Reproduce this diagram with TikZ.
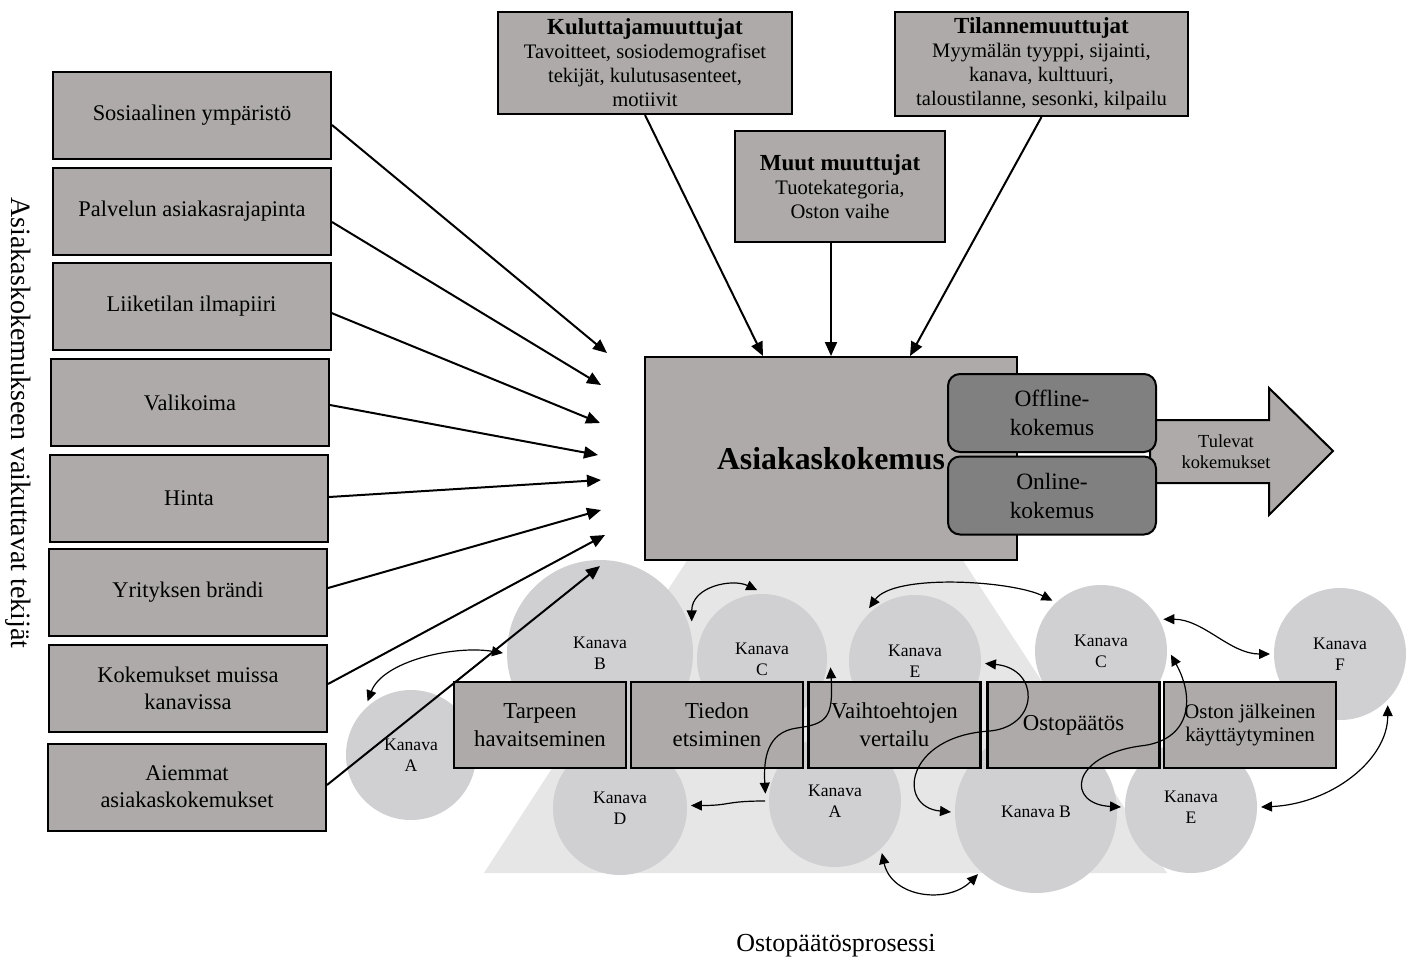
\documentclass[tikz,border=0pt]{standalone}
\usepackage{fontspec}
\setmainfont{Liberation Serif}
\usetikzlibrary{arrows.meta}
\definecolor{boxgray}{RGB}{173,170,169}
\definecolor{expgray}{RGB}{128,128,128}
\definecolor{circgray}{RGB}{208,207,209}
\definecolor{trigray}{RGB}{230,230,230}
\begin{document}
\begin{tikzpicture}[x=0.5pt,y=-0.5pt,
  lbox/.style={draw, line width=1pt, fill=boxgray, minimum width=139pt, minimum height=43.5pt, inner sep=0pt, align=center, font=\fontsize{11.2}{13.5}\selectfont},
  topbox/.style={draw, line width=1pt, fill=boxgray, inner sep=0pt, align=center, font=\fontsize{10.3}{12}\selectfont},
  pbox/.style={draw, line width=1.2pt, fill=boxgray, minimum width=86pt, minimum height=43pt, inner sep=0pt, align=center, font=\fontsize{11.4}{14}\selectfont},
  chan/.style={circle, fill=circgray, inner sep=0pt, outer sep=2pt, align=center, font=\fontsize{8.8}{10.5}\selectfont},
  expbox/.style={draw, line width=1pt, fill=expgray, rounded corners=6pt, minimum width=104pt, minimum height=39pt, inner sep=0pt, align=center, font=\fontsize{11.7}{14.5}\selectfont},
  bigarr/.style={line width=1pt, -{Triangle[length=7pt,width=6pt]}},
  curv/.style={line width=0.6pt, {Triangle[length=5.5pt,width=5pt]}-{Triangle[length=5.5pt,width=5pt]}},
  curvone/.style={line width=0.6pt, -{Triangle[length=5.5pt,width=5pt]}}
]
\useasboundingbox (0,0) rectangle (1415,960);
\fill[white] (0,0) rectangle (1415,960);

% background trapezoid (triangle whose top is hidden by the main box)
\fill[trigray] (690,556) -- (960,556) -- (1167,873) -- (484,873) -- cycle;

% main box
\node[draw, line width=1pt, fill=boxgray, minimum width=186pt, minimum height=101.5pt, inner sep=0pt,
      font=\fontsize{15.9}{18}\selectfont\bfseries] (main) at (831,458.5) {\raisebox{-1.5pt}{Asiakaskokemus}};

% future arrow
\draw[line width=1pt, fill=boxgray] (1150,420) -- (1269,420) -- (1269,388) -- (1333,451) -- (1269,515) -- (1269,483) -- (1150,483) -- cycle;
\node[align=center, inner sep=0pt, font=\fontsize{9.2}{10.5}\selectfont] (tul) at (1226,452) {Tulevat\\kokemukset};

% offline / online
\node[expbox] (off) at (1052,413) {Offline-\\kokemus};
\node[expbox] (on) at (1052,495.5) {Online-\\kokemus};

% top boxes
\node[topbox, minimum width=147pt, minimum height=51pt] (ku) at (645,63)
  {{\fontsize{11.5}{13}\selectfont\bfseries Kuluttajamuuttujat}\\Tavoitteet, sosiodemografiset\\tekijät, kulutusasenteet,\\motiivit};
\node[topbox, minimum width=146.5pt, minimum height=52pt] (ti) at (1041.5,64)
  {{\fontsize{11.5}{13}\selectfont\bfseries Tilannemuuttujat}\\Myymälän tyyppi, sijainti,\\kanava, kulttuuri,\\taloustilanne, sesonki, kilpailu};
\node[topbox, minimum width=105pt, minimum height=55.5pt] (mm) at (840,186.5)
  {{\fontsize{11.5}{13}\selectfont\bfseries Muut muuttujat}\\Tuotekategoria,\\Oston vaihe};

\draw[bigarr] (ku.south) -- ([xshift=-34pt]main.north);
\draw[bigarr] (main.north |- mm.south) -- (main.north);
\draw[bigarr] (ti.south) -- ([xshift=39.5pt]main.north);

% channel circles
\node[chan, minimum size=65pt] (cA1) at (411,755) {Kanava\\A};
\node[chan, minimum size=93pt] (cB1) at (600,653) {Kanava\\B};
\node[chan, minimum size=65pt] (cC1) at (762,659) {Kanava\\C};
\node[chan, minimum size=67pt] (cD) at (620,808) {Kanava\\D};
\node[chan, minimum size=66pt] (cE1) at (915,661) {Kanava\\E};
\node[chan, minimum size=66pt] (cA2) at (835,801) {Kanava\\A};
\node[chan, minimum size=81pt] (cB2) at (1036,812) {Kanava B};
\node[chan, minimum size=66pt] (cC2) at (1101,651) {Kanava\\C};
\node[chan, minimum size=66pt] (cF) at (1340,654) {Kanava\\F};
\node[chan, minimum size=66pt] (cE2) at (1191,807) {Kanava\\E};

% process boxes
\node[pbox] (p1) at (540,725) {Tarpeen\\havaitseminen};
\node[pbox] (p2) at (717,725) {Tiedon\\etsiminen};
\node[pbox] (p3) at (894.5,725) {Vaihtoehtojen\\vertailu};
\node[pbox] (p4) at (1073.5,725) {Ostopäätös};
\node[pbox, font=\fontsize{10.4}{11.5}\selectfont] (p5) at (1250,725) {Oston jälkeinen\\käyttäytyminen};

% left boxes
\node[lbox] (b1) at (192,115) {Sosiaalinen ympäristö};
\node[lbox] (b2) at (192,211) {Palvelun asiakasrajapinta};
\node[lbox] (b3) at (191.5,306.5) {Liiketilan ilmapiiri};
\node[lbox] (b4) at (190,402.5) {Valikoima};
\node[lbox] (b5) at (189,498) {Hinta};
\node[lbox] (b6) at (188,592.5) {Yrityksen brändi};
\node[lbox] (b7) at (188,688.5) {Kokemukset muissa\\kanavissa};
\node[lbox] (b8) at (187,787) {Aiemmat\\asiakaskokemukset};

% arrow targets
\coordinate (t1) at (607,353);
\coordinate (t2) at (601,385);
\coordinate (t3) at (600,423);
\coordinate (t4) at (598,455);
\coordinate (t5) at (601,480);
\coordinate (t6) at (601,510);
\coordinate (t7) at (605,535);
\coordinate (t8) at (600,566);

\draw[bigarr] ([yshift=-5pt]b1.east) -- (t1);
\draw[bigarr] ([yshift=-5.5pt]b2.east) -- (t2);
\draw[bigarr] ([yshift=-3.25pt]b3.east) -- (t3);
\draw[bigarr] ([yshift=-1.25pt]b4.east) -- (t4);
\draw[bigarr] ([yshift=0.5pt]b5.east) -- (t5);
\draw[bigarr] ([yshift=2.25pt]b6.east) -- (t6);
\draw[bigarr] ([yshift=2.25pt]b7.east) -- (t7);
\draw[bigarr] ([yshift=1pt]b8.east) -- (t8);

% curved connectors between channels
\draw[curv] (cA1.129) .. controls +(15,-40) and +(-50,-8) .. (cB1.180);
\draw[curv] (cB1.19) .. controls +(0,-35) and +(-25,-12) .. (cC1.94);
\draw[curv] (cC1.-7) .. controls +(3,50) and +(30,-4) .. (797,728) .. controls +(-30,4) and +(-2,-35) .. (cA2.174);
\draw[curvone] (cA2.180) .. controls +(-40,0) and +(40,0) .. (cD.2);
\draw[curv] (cE1.131) .. controls +(25,-35) and +(-40,-20) .. (cC2.134);
\draw[curv] (cE1.-2) .. controls +(55,5) and +(50,-5) .. (990,731) .. controls +(-85,5) and +(-55,-5) .. (cB2.180);
\draw[curv] (cC2.-3) .. controls +(25,45) and +(50,-5) .. (1140,746) .. controls +(-70,10) and +(-55,-3) .. (cE2.180);
\draw[curv] (cC2.27) .. controls +(40,0) and +(-40,0) .. (cF.180);
\draw[curv] (cF.-47) .. controls +(0,55) and +(70,-3) .. (cE2.0);
\draw[curv] (cA2.-48) .. controls +(10,45) and +(-30,30) .. (cB2.-133);

% labels
\node[rotate=-90, inner sep=0pt, font=\fontsize{14}{16}\selectfont] (side) at (18,423) {Asiakaskokemukseen vaikuttavat tekijät};
\node[inner sep=0pt, font=\fontsize{13}{15}\selectfont] (proc) at (836,946) {Ostopäätösprosessi};
\end{tikzpicture}
\end{document}
